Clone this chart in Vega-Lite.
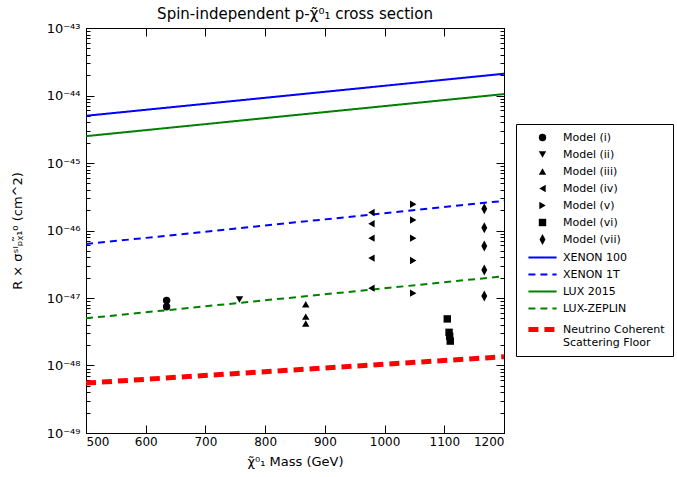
{
  "$schema": "https://vega.github.io/schema/vega-lite/v6.json",
  "width": 418,
  "height": 405,
  "autosize": "none",
  "padding": {"left": 86, "top": 28, "right": 173, "bottom": 44},
  "title": {"text": "Spin-independent p-χ̃⁰₁  cross section", "font": "DejaVu Sans", "fontSize": 15, "fontWeight": "normal", "color": "black", "offset": 0},
  "datasets": {
    "lines": [
      {"series": "XENON 100", "mass": 500, "sigma": 5.0e-45},
      {"series": "XENON 100", "mass": 1200, "sigma": 2.1e-44},
      {"series": "XENON 1T", "mass": 500, "sigma": 6.3e-47},
      {"series": "XENON 1T", "mass": 1200, "sigma": 2.75e-46},
      {"series": "LUX 2015", "mass": 500, "sigma": 2.5e-45},
      {"series": "LUX 2015", "mass": 1200, "sigma": 1.05e-44},
      {"series": "LUX-ZEPLIN", "mass": 500, "sigma": 5.0e-48},
      {"series": "LUX-ZEPLIN", "mass": 1200, "sigma": 2.1e-47},
      {"series": "Neutrino Coherent Scattering Floor", "mass": 500, "sigma": 5.5e-49},
      {"series": "Neutrino Coherent Scattering Floor", "mass": 1200, "sigma": 1.35e-48}
    ],
    "points": [
      {"series": "Model (i)", "mass": 635, "sigma": 9.2e-48},
      {"series": "Model (i)", "mass": 635, "sigma": 7.4e-48},
      {"series": "Model (ii)", "mass": 757, "sigma": 9.5e-48},
      {"series": "Model (iii)", "mass": 868, "sigma": 8.1e-48},
      {"series": "Model (iii)", "mass": 868, "sigma": 5.3e-48},
      {"series": "Model (iii)", "mass": 868, "sigma": 4.2e-48},
      {"series": "Model (iv)", "mass": 978, "sigma": 1.85e-46},
      {"series": "Model (iv)", "mass": 978, "sigma": 1.26e-46},
      {"series": "Model (iv)", "mass": 978, "sigma": 7.7e-47},
      {"series": "Model (iv)", "mass": 978, "sigma": 3.9e-47},
      {"series": "Model (iv)", "mass": 978, "sigma": 1.4e-47},
      {"series": "Model (v)", "mass": 1048, "sigma": 2.45e-46},
      {"series": "Model (v)", "mass": 1048, "sigma": 1.43e-46},
      {"series": "Model (v)", "mass": 1048, "sigma": 7.7e-47},
      {"series": "Model (v)", "mass": 1048, "sigma": 3.6e-47},
      {"series": "Model (v)", "mass": 1048, "sigma": 1.18e-47},
      {"series": "Model (vi)", "mass": 1105, "sigma": 4.9e-48},
      {"series": "Model (vi)", "mass": 1108, "sigma": 3.1e-48},
      {"series": "Model (vi)", "mass": 1109, "sigma": 2.7e-48},
      {"series": "Model (vi)", "mass": 1110, "sigma": 2.3e-48},
      {"series": "Model (vii)", "mass": 1167, "sigma": 2.1e-46},
      {"series": "Model (vii)", "mass": 1167, "sigma": 1.1e-46},
      {"series": "Model (vii)", "mass": 1167, "sigma": 5.9e-47},
      {"series": "Model (vii)", "mass": 1167, "sigma": 2.6e-47},
      {"series": "Model (vii)", "mass": 1167, "sigma": 1.07e-47}
    ]
  },
  "layer": [
    {
      "data": {"name": "lines"},
      "mark": {"type": "line", "strokeCap": "butt", "clip": true},
      "encoding": {
        "x": {"field": "mass", "type": "quantitative",
          "scale": {"domain": [500, 1200], "nice": false, "zero": false},
          "axis": {"orient": "bottom", "values": [500, 600, 700, 800, 900, 1000, 1100, 1200], "format": "d", "title": "χ̃⁰₁ Mass (GeV)", "titleFontSize": 13, "tickSize": -8, "labelPadding": 11, "titlePadding": 8}},
        "y": {"field": "sigma", "type": "quantitative",
          "scale": {"type": "log", "domain": [1e-49, 1e-43], "nice": false},
          "axis": {"orient": "left", "title": "R × σˢᴵₚᵪ̃₁⁰ (cm^2)", "titleFontSize": 13, "labelFontSize": 13, "tickSize": -8, "labelPadding": 14, "labelOverlap": false, "labelBound": false, "titlePadding": 22,
            "values": [1e-49, 1e-48, 1e-47, 1e-46, 1e-45, 1e-44, 1e-43],
            "labelExpr": "['10⁻⁴⁹','10⁻⁴⁸','10⁻⁴⁷','10⁻⁴⁶','10⁻⁴⁵','10⁻⁴⁴','10⁻⁴³'][round(log(datum.value)/LN10)+49]"}},
        "color": {"field": "series", "type": "nominal"},
        "strokeDash": {"field": "series", "type": "nominal",
          "scale": {"type": "ordinal", "domain": ["Model (i)","Model (ii)","Model (iii)","Model (iv)","Model (v)","Model (vi)","Model (vii)","XENON 100","XENON 1T","LUX 2015","LUX-ZEPLIN","Neutrino Coherent Scattering Floor"],
            "range": [[1,0],[1,0],[1,0],[1,0],[1,0],[1,0],[1,0],[1,0],[7,5],[1,0],[7,5],[10,6]]}},
        "strokeWidth": {"field": "series", "type": "nominal",
          "scale": {"type": "ordinal", "domain": ["Model (i)","Model (ii)","Model (iii)","Model (iv)","Model (v)","Model (vi)","Model (vii)","XENON 100","XENON 1T","LUX 2015","LUX-ZEPLIN","Neutrino Coherent Scattering Floor"],
            "range": [0,0,0,0,0,0,0,2,2,2,2,5]}}
      }
    },
    {
      "data": {"name": "points"},
      "mark": {"type": "point", "filled": true, "opacity": 1, "size": 55},
      "encoding": {
        "x": {"field": "mass", "type": "quantitative",
          "axis": {"orient": "top", "values": [500, 600, 700, 800, 900, 1000, 1100, 1200], "labels": false, "title": null, "tickSize": -8}},
        "y": {"field": "sigma", "type": "quantitative",
          "axis": {"orient": "right", "labels": false, "title": null, "tickSize": -8,
            "values": [1e-49, 1e-48, 1e-47, 1e-46, 1e-45, 1e-44, 1e-43]}},
        "color": {"field": "series", "type": "nominal",
          "scale": {"domain": ["Model (i)","Model (ii)","Model (iii)","Model (iv)","Model (v)","Model (vi)","Model (vii)","XENON 100","XENON 1T","LUX 2015","LUX-ZEPLIN","Neutrino Coherent Scattering Floor"],
            "range": ["black","black","black","black","black","black","black","#0000ff","#0000ff","#008000","#008000","#ff0000"]},
          "legend": {"title": null, "orient": "none", "legendX": 430, "legendY": 96, "direction": "vertical",
            "strokeColor": "black", "fillColor": "white", "padding": 8, "cornerRadius": 0,
            "labelFont": "DejaVu Sans", "labelFontSize": 11, "labelColor": "black", "labelOffset": 14, "rowPadding": 5, "symbolSize": 55, "symbolOffset": 12,
            "labelExpr": "datum.label == 'Neutrino Coherent Scattering Floor' ? ['Neutrino Coherent', 'Scattering Floor'] : datum.label"}},
        "shape": {"field": "series", "type": "nominal",
          "scale": {"domain": ["Model (i)","Model (ii)","Model (iii)","Model (iv)","Model (v)","Model (vi)","Model (vii)","XENON 100","XENON 1T","LUX 2015","LUX-ZEPLIN","Neutrino Coherent Scattering Floor"],
            "range": ["circle","triangle-down","triangle-up","triangle-left","triangle-right","square","M0,-1.5L0.8,0L0,1.5L-0.8,0Z","M-3.8,0L3.8,0","M-3.8,0L3.8,0","M-3.8,0L3.8,0","M-3.8,0L3.8,0","M-3.8,0L3.8,0"]}}
      }
    },
    {
      "data": {"name": "points"},
      "mark": {"type": "point", "opacity": 0},
      "encoding": {
        "x": {"field": "mass", "type": "quantitative", "axis": null},
        "y": {"field": "sigma", "type": "quantitative",
          "axis": {"orient": "left", "labels": false, "title": null, "domain": false, "tickSize": -4,
            "values": [2e-49,3e-49,4e-49,5e-49,6e-49,7e-49,8e-49,9e-49,2e-48,3e-48,4e-48,5e-48,6e-48,7e-48,8e-48,9e-48,2e-47,3e-47,4e-47,5e-47,6e-47,7e-47,8e-47,9e-47,2e-46,3e-46,4e-46,5e-46,6e-46,7e-46,8e-46,9e-46,2e-45,3e-45,4e-45,5e-45,6e-45,7e-45,8e-45,9e-45,2e-44,3e-44,4e-44,5e-44,6e-44,7e-44,8e-44,9e-44]}}
      }
    },
    {
      "data": {"name": "points"},
      "mark": {"type": "point", "opacity": 0},
      "encoding": {
        "x": {"field": "mass", "type": "quantitative", "axis": null},
        "y": {"field": "sigma", "type": "quantitative",
          "axis": {"orient": "right", "labels": false, "title": null, "domain": false, "tickSize": -4,
            "values": [2e-49,3e-49,4e-49,5e-49,6e-49,7e-49,8e-49,9e-49,2e-48,3e-48,4e-48,5e-48,6e-48,7e-48,8e-48,9e-48,2e-47,3e-47,4e-47,5e-47,6e-47,7e-47,8e-47,9e-47,2e-46,3e-46,4e-46,5e-46,6e-46,7e-46,8e-46,9e-46,2e-45,3e-45,4e-45,5e-45,6e-45,7e-45,8e-45,9e-45,2e-44,3e-44,4e-44,5e-44,6e-44,7e-44,8e-44,9e-44]}}
      }
    }
  ],
  "resolve": {"axis": {"x": "independent", "y": "independent"}},
  "encoding": {},
  "config": {
    "view": {"stroke": "black", "strokeWidth": 1},
    "axis": {"labelFont": "DejaVu Sans", "labelFontSize": 12, "labelColor": "black", "titleFont": "DejaVu Sans", "titleFontSize": 12, "titleFontWeight": "normal", "titleColor": "black", "domainColor": "black", "tickColor": "black", "grid": false}
  }
}
